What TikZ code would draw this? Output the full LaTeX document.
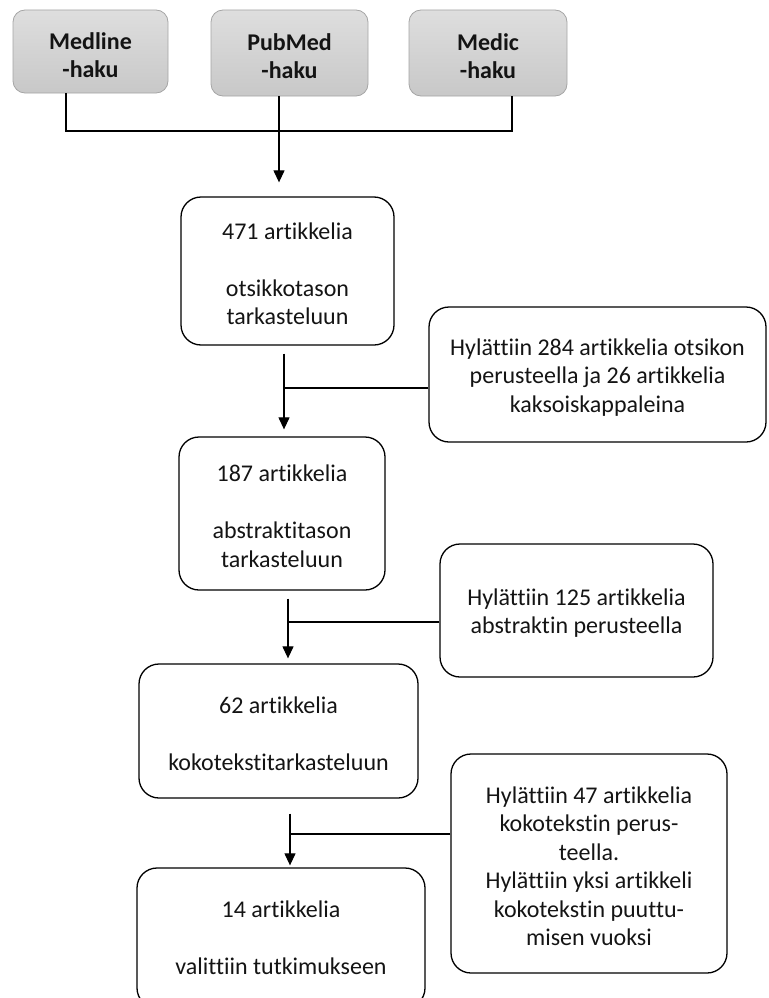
\documentclass[tikz,border=0pt]{standalone}
\usepackage{fontspec}
\setmainfont{Carlito}[Ligatures=NoCommon]
\usetikzlibrary{arrows.meta,calc}
\definecolor{srcTop}{RGB}{222,222,222}
\definecolor{srcBot}{RGB}{200,200,200}
\definecolor{srcLine}{RGB}{165,165,165}
\definecolor{txt}{RGB}{20,20,20}
\begin{document}
\begin{tikzpicture}[x=1pt,y=-1pt,
  every node/.style={font=\fontsize{24}{28.5}\selectfont, align=center, inner sep=0pt, text=txt},
  src/.style={draw=srcLine, line width=0.8pt, rounded corners=12pt, top color=srcTop, bottom color=srcBot,
    font=\fontsize{24}{28}\selectfont\bfseries},
  stage/.style={draw=black, line width=1.3pt, rounded corners=20pt},
  link/.style={line width=1.2pt},
  arr/.style={link, -{Triangle[length=12pt,width=11pt]}}]
\useasboundingbox (0,0) rectangle (768,998);

% source boxes
\node[src, minimum width=155pt, minimum height=83pt] (med) at (90.5,51.5) {\rule{0pt}{24pt}Medline\\-haku};
\node[src, minimum width=157pt, minimum height=86pt] (pub) at (289.5,53) {\rule{0pt}{24pt}PubMed\\-haku};
\node[src, minimum width=158pt, minimum height=86pt] (medic) at (488,53) {\rule{0pt}{24pt}Medic\\-haku};

% stage boxes
\node[stage, minimum width=213pt, minimum height=148pt] (b1) at (287.5,271)
  {\rule{0pt}{22pt}471 artikkelia\\[28.5pt]otsikkotason\\tarkasteluun};
\node[stage, minimum width=337pt, minimum height=135pt] (r1) at (597.5,374.5)
  {\rule{0pt}{22pt}Hylättiin 284 artikkelia otsikon\\perusteella ja 26 artikkelia\\kaksoiskappaleina};
\node[stage, minimum width=206pt, minimum height=153pt] (b2) at (282,513.5)
  {\rule{0pt}{22pt}187 artikkelia\\[28.5pt]abstraktitason\\tarkasteluun};
\node[stage, minimum width=273pt, minimum height=133pt] (r2) at (576.5,610.5)
  {\rule{0pt}{22pt}Hylättiin 125 artikkelia\\abstraktin perusteella};
\node[stage, minimum width=279pt, minimum height=134pt] (b3) at (278.5,731)
  {\rule{0pt}{22pt}62 artikkelia\\[28.5pt]kokotekstitarkasteluun};
\node[stage, minimum width=276pt, minimum height=219pt] (r3) at (589,863.5)
  {\rule{0pt}{22pt}Hylättiin 47 artikkelia\\kokotekstin perus-\\teella.\\Hylättiin yksi artikkeli\\kokotekstin puuttu-\\misen vuoksi};
\node[stage, minimum width=288pt, minimum height=140pt] (b4) at (281,938)
  {14 artikkelia\\[28.5pt]valittiin tutkimukseen};

% top connectors
\coordinate (jt) at (0,131);
\coordinate (ls) at ($(med.south)+(-24.5,0)$);
\coordinate (ms) at ($(medic.south)+(24,0)$);
\coordinate (ps) at ($(pub.south)+(-10.5,0)$);
\draw[link] (ls) -- (ls |- jt) -- (ms |- jt) -- (ms);
\draw[arr] (ps) -- ($(ps |- b1.north)+(0,-14)$);

% box1 -> box2
\coordinate (v1) at ($(b1.south)+(-3.5,8)$);
\draw[arr] (v1) -- ($(v1 |- b2.north)+(0,-7)$);
\draw[link] ($(r1.west)+(0,13.5)$) -- ($(r1.west -| v1)+(0,13.5)$);

% box2 -> box3
\coordinate (v2) at ($(b2.south)+(6,8)$);
\draw[arr] (v2) -- ($(v2 |- b3.north)+(0,-5)$);
\draw[link] ($(r2.west)+(0,11.5)$) -- ($(r2.west -| v2)+(0,11.5)$);

% box3 -> box4
\coordinate (v3) at ($(b3.south)+(11.5,15)$);
\draw[arr] (v3) -- ($(v3 |- b4.north)+(0,-2)$);
\draw[link] ($(r3.west)+(0,-29.5)$) -- ($(r3.west -| v3)+(0,-29.5)$);
\end{tikzpicture}
\end{document}
